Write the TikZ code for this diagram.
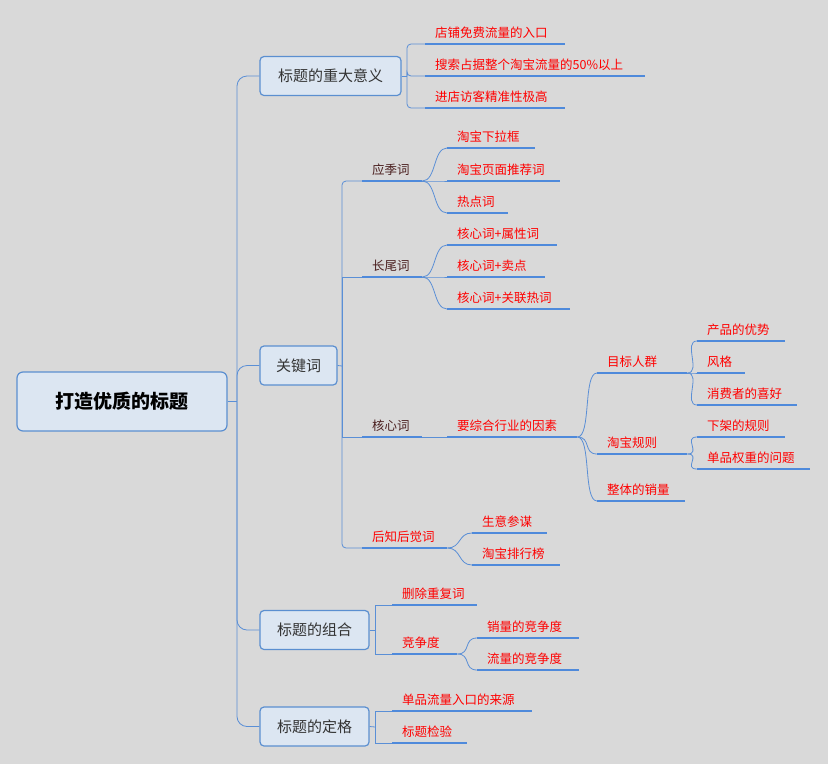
\documentclass[tikz,border=0pt]{standalone}
\usepackage{fontspec}
\setmainfont{Noto Sans CJK SC}
\definecolor{bg}{HTML}{D9D9D9}
\definecolor{boxfill}{HTML}{DCE6F2}
\definecolor{boxdraw}{HTML}{5B8FD0}
\definecolor{ln}{HTML}{5A8FD6}
\definecolor{ul}{HTML}{4F8ADB}
\definecolor{rd}{HTML}{FF0000}
\definecolor{dk}{HTML}{4A1E1E}
\tikzset{
 x=1pt,y=-1pt,
 topbox/.style={draw=boxdraw,fill=boxfill,line width=1.2pt,rounded corners=4pt,font=\fontsize{15}{18}\selectfont,text=black!80,inner xsep=0pt,minimum height=39pt},
 leaf/.style={anchor=south west,inner xsep=10pt,inner ysep=5pt,text width=#1,align=left,font=\fontsize{12.5}{14}\selectfont,text=rd},
 dleaf/.style={leaf=#1,text=dk},
 conn/.style={draw=ln,line width=0.8pt},
 uline/.style={draw=ul,line width=2.6pt},
}
\newcommand{\cv}[2]{\draw[conn] (#1.south east) .. controls +(14,0) and +(-14,0) .. (#2.south west);}
\begin{document}
\begin{tikzpicture}
\fill[bg] (0,0) rectangle (828,764);
\useasboundingbox (0,0) rectangle (828,764);
\node[draw=boxdraw,fill=boxfill,line width=1.2pt,rounded corners=6pt,minimum width=210pt,minimum height=59pt,font=\fontsize{19}{22}\selectfont\bfseries] (root) at (122,401.5) {打造优质的标题};
\node[topbox,minimum width=141pt] (t1) at (330.5,76) {标题的重大意义};
\node[topbox,minimum width=77pt] (t2) at (298.5,365.5) {关键词};
\node[topbox,minimum width=109pt] (t3) at (314.5,630) {标题的组合};
\node[topbox,minimum width=109pt] (t4) at (314.5,726.5) {标题的定格};
\coordinate (tr) at (237,401.5);
\draw[conn] (root.east) -- (tr);
\foreach \t in {t1,t2,t3,t4}{\draw[conn,rounded corners=10pt] (tr) |- (\t.west);}
% group 1
\node[leaf=120pt] (a1) at (425,44) {店铺免费流量的入口};
\node[leaf=200pt] (a2) at (425,76) {搜索占据整个淘宝流量的50\%以上};
\node[leaf=120pt] (a3) at (425,108) {进店访客精准性极高};
\coordinate (b1) at (407,76);
\draw[conn] (t1.east) -- (b1);
\foreach \n in {a1,a2,a3}{\draw[conn,rounded corners=4pt] (b1) |- (\n.south west);}
% group 2
\coordinate (b2) at (342,366);
\draw[conn] (t2.east) -- (b2);
\node[dleaf=40pt] (k1) at (362,181) {应季词};
\node[dleaf=40pt] (k2) at (362,277) {长尾词};
\node[dleaf=40pt] (k3) at (362,437) {核心词};
\node[leaf=65pt] (k4) at (362,548) {后知后觉词};
\draw[conn,rounded corners=4pt] (b2) |- (k1.south west);
\draw[conn,rounded corners=4pt] (b2) |- (k4.south west);
\draw[conn] (b2) |- (k2.south west);
\draw[conn] (b2) |- (k3.south west);
\node[leaf=68pt] (y1) at (447,148) {淘宝下拉框};
\node[leaf=93pt] (y2) at (447,181) {淘宝页面推荐词};
\node[leaf=41pt] (y3) at (447,213) {热点词};
\foreach \n in {y1,y2,y3}{\cv{k1}{\n}}
\node[leaf=90pt] (w1) at (447,245) {核心词+属性词};
\node[leaf=78pt] (w2) at (447,277) {核心词+卖点};
\node[leaf=103pt] (w3) at (447,309) {核心词+关联热词};
\foreach \n in {w1,w2,w3}{\cv{k2}{\n}}
\node[leaf=110pt] (c1) at (447,437) {要综合行业的因素};
\draw[conn] (k3.south east) -- (c1.south west);
\node[leaf=70pt] (d1) at (597,373) {目标人群};
\node[leaf=70pt] (d2) at (597,454) {淘宝规则};
\node[leaf=68pt] (d3) at (597,501) {整体的销量};
\foreach \n in {d1,d2,d3}{\cv{c1}{\n}}
\node[leaf=68pt] (e1) at (697,341) {产品的优势};
\node[leaf=28pt] (e2) at (697,373) {风格};
\node[leaf=80pt] (e3) at (697,405) {消费者的喜好};
\foreach \n in {e1,e2,e3}{\cv{d1}{\n}}
\node[leaf=68pt] (f1) at (697,437) {下架的规则};
\node[leaf=93pt] (f2) at (697,469) {单品权重的问题};
\foreach \n in {f1,f2}{\cv{d2}{\n}}
\node[leaf=55pt] (g1) at (472,533) {生意参谋};
\node[leaf=68pt] (g2) at (472,565) {淘宝排行榜};
\foreach \n in {g1,g2}{\cv{k4}{\n}}
% group 3
\coordinate (b3) at (375,630);
\draw[conn] (t3.east) -- (b3);
\node[leaf=65pt] (h1) at (392,605) {删除重复词};
\node[leaf=45pt] (h2) at (392,654) {竞争度};
\foreach \n in {h1,h2}{\draw[conn] (b3) |- (\n.south west);}
\node[leaf=82pt] (i1) at (477,638) {销量的竞争度};
\node[leaf=82pt] (i2) at (477,670) {流量的竞争度};
\foreach \n in {i1,i2}{\cv{h2}{\n}}
% group 4
\coordinate (b4) at (375,727);
\draw[conn] (t4.east) -- (b4);
\node[leaf=120pt] (j1) at (392,711) {单品流量入口的来源};
\node[leaf=55pt] (j2) at (392,743) {标题检验};
\foreach \n in {j1,j2}{\draw[conn] (b4) |- (\n.south west);}
% underlines
\foreach \n in {a1,a2,a3,k1,k2,k3,k4,y1,y2,y3,w1,w2,w3,c1,d1,d2,d3,e1,e2,e3,f1,f2,g1,g2,h1,h2,i1,i2,j1,j2}{\draw[uline] (\n.south west) -- (\n.south east);}
\end{tikzpicture}
\end{document}
